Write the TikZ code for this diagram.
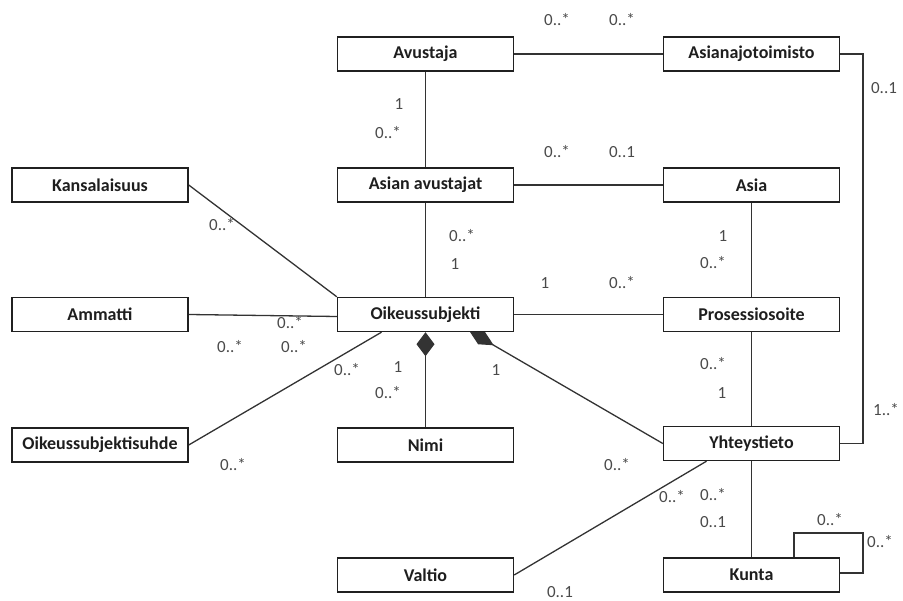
\documentclass[tikz,border=0pt]{standalone}
\usepackage{fontspec}
\setmainfont{Carlito}
\usetikzlibrary{arrows.meta}
\pgfdeclarelayer{background}
\pgfsetlayers{background,main}
\definecolor{boxline}{HTML}{202020}
\definecolor{linkline}{HTML}{333333}
\definecolor{multtext}{HTML}{4A4A4A}
\definecolor{labeltext}{HTML}{1E1E1E}
\tikzset{
  entity/.style={draw=boxline, line width=1.4pt, fill=white, minimum width=176pt,
    minimum height=34pt, inner sep=0pt, text=labeltext,
    font=\fontsize{18}{20}\selectfont\bfseries},
  link/.style={draw=linkline, line width=1.3pt},
  mult/.style={text=multtext, inner sep=0pt, font=\fontsize{17}{19}\selectfont},
}
\begin{document}
\begin{tikzpicture}[x=1pt,y=-1pt]
\useasboundingbox (0,0) rectangle (903,601);

% classes
\node[entity] (avustaja) at (425.5,54) {Avustaja};
\node[entity] (toimisto) at (751.5,54) {Asianajotoimisto};
\node[entity] (kansalaisuus) at (100,185) {Kansalaisuus};
\node[entity] (asianav) at (425.5,185) {Asian avustajat};
\node[entity] (asia) at (751.5,185) {Asia};
\node[entity] (ammatti) at (100,314.5) {Ammatti};
\node[entity] (oikeus) at (425.5,314.5) {Oikeussubjekti};
\node[entity] (prosessi) at (751.5,314.5) {Prosessiosoite};
\node[entity] (suhde) at (100,445) {Oikeussubjektisuhde};
\node[entity] (nimi) at (425.5,445) {Nimi};
\node[entity] (yhteys) at (751.5,443.5) {Yhteystieto};
\node[entity] (valtio) at (425.5,575) {Valtio};
\node[entity] (kunta) at (751.5,575) {Kunta};

% bend points of the right-hand connectors
\coordinate (rtop) at (863,54);
\coordinate (kloop) at (863,533);

% associations, drawn under the boxes
\begin{pgfonlayer}{background}
\draw[link] (avustaja.east) -- (toimisto.west);
\draw[link] (avustaja.south) -- (asianav.north);
\draw[link] (asianav.east) -- (asia.west);
\draw[link] (asianav.south) -- (oikeus.north);
\draw[link] (asia.south) -- (prosessi.north);
\draw[link] (oikeus.east) -- (prosessi.west);
\draw[link] (prosessi.south) -- (yhteys.north);
\draw[link] (yhteys.south) -- (kunta.north);
\draw[link] (toimisto.east) -- (rtop) |- (yhteys.east);
\draw[link] ([xshift=42.5pt]kunta.north) |- (kloop) |- ([yshift=2pt]kunta.east);
\draw[link] (kansalaisuus.east) -- (oikeus.north west);
\draw[link] (ammatti.east) -- ([yshift=-2pt]oikeus.west);
\draw[link] (suhde.east) -- ([xshift=-44pt]oikeus.south);
\draw[link] (valtio.east) -- ([xshift=-45pt]yhteys.south);
\draw[link, {Diamond[length=28pt,width=14pt,fill=linkline]}-]
  ([xshift=44pt,yshift=1pt]oikeus.south) -- (yhteys.west);
\draw[link, {Diamond[length=24pt,width=18pt,fill=linkline]}-]
  (oikeus.south) -- (nimi.north);
\end{pgfonlayer}

% multiplicities
\node[mult] (m1) at (557,20) {0..*};
\node[mult] (m2) at (622,20) {0..*};
\node[mult] (m3) at (884,88) {0..1};
\node[mult] (m4) at (399,104) {1};
\node[mult] (m5) at (388,133) {0..*};
\node[mult] (m6) at (557,152) {0..*};
\node[mult] (m7) at (622,152) {0..1};
\node[mult] (m8) at (222,225) {0..*};
\node[mult] (m9) at (462,236) {0..*};
\node[mult] (m10) at (455,264) {1};
\node[mult] (m11) at (723,236) {1};
\node[mult] (m12) at (713,263) {0..*};
\node[mult] (m13) at (545,283) {1};
\node[mult] (m14) at (622,283) {0..*};
\node[mult] (m15) at (290,323) {0..*};
\node[mult] (m16) at (230,347) {0..*};
\node[mult] (m17) at (294,347) {0..*};
\node[mult] (m18) at (347,370) {0..*};
\node[mult] (m19) at (398,367) {1};
\node[mult] (m20) at (388,393) {0..*};
\node[mult] (m21) at (496,370) {1};
\node[mult] (m22) at (713,364) {0..*};
\node[mult] (m23) at (722,393) {1};
\node[mult] (m24) at (886,410) {1..*};
\node[mult] (m25) at (233,465) {0..*};
\node[mult] (m26) at (617,465) {0..*};
\node[mult] (m27) at (672,497) {0..*};
\node[mult] (m28) at (713,495) {0..*};
\node[mult] (m29) at (713,522) {0..1};
\node[mult] (m30) at (830,520) {0..*};
\node[mult] (m31) at (880,542) {0..*};
\node[mult] (m32) at (560,592) {0..1};
\end{tikzpicture}
\end{document}
